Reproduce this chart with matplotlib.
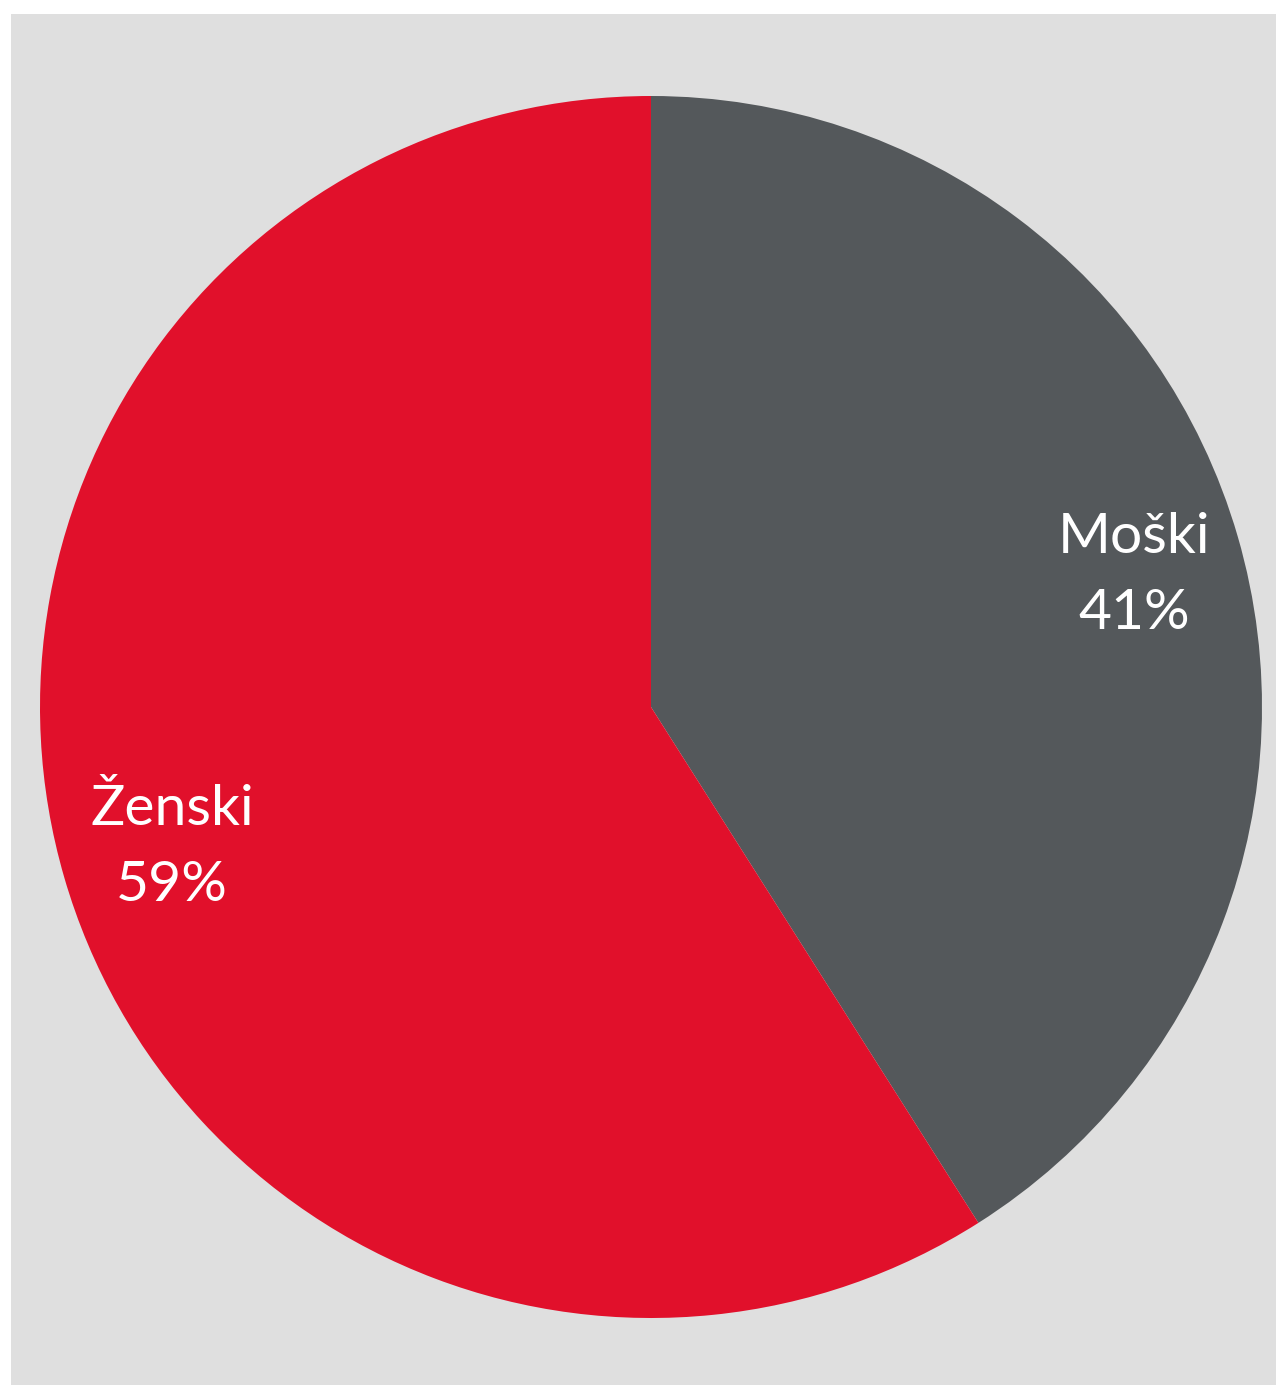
import matplotlib
matplotlib.use("Agg")
import matplotlib.pyplot as plt
from matplotlib.patches import Rectangle

# Data
labels = ["Moški", "Ženski"]
shares = [41, 59]
colors = ["#54585B", "#E1102B"]

W, H = 1276, 1385
fig = plt.figure(figsize=(W / 100, H / 100), dpi=100)
fig.patch.set_facecolor("white")

ax = fig.add_axes([0, 0, 1, 1])
ax.set_xlim(0, W)
ax.set_ylim(0, H)
ax.set_aspect("equal")
ax.axis("off")

# grey panel behind the pie
ax.add_patch(Rectangle((11, 0), W - 11, H - 14, facecolor="#DFDFDF",
                       edgecolor="none", zorder=0))

cx, cy, r = 651, H - 707, 611
ax.pie(shares, colors=colors, startangle=90, counterclock=False,
       center=(cx, cy), radius=r, frame=True,
       wedgeprops=dict(linewidth=0, zorder=1))
ax.set_xlim(0, W)
ax.set_ylim(0, H)
ax.axis("off")

# labels (name on first line, percentage below)
label_pos = [(1134, 553), (172, 825)]
for (x, y), name, val in zip(label_pos, labels, shares):
    ax.text(x, H - y, name, ha="center", va="baseline", color="white",
            fontsize=41, family="Lato", zorder=3)
    ax.text(x, H - y - 76, f"{val}%", ha="center", va="baseline",
            color="white", fontsize=41, family="Lato", zorder=3)

fig.savefig("out.png", dpi=100)
